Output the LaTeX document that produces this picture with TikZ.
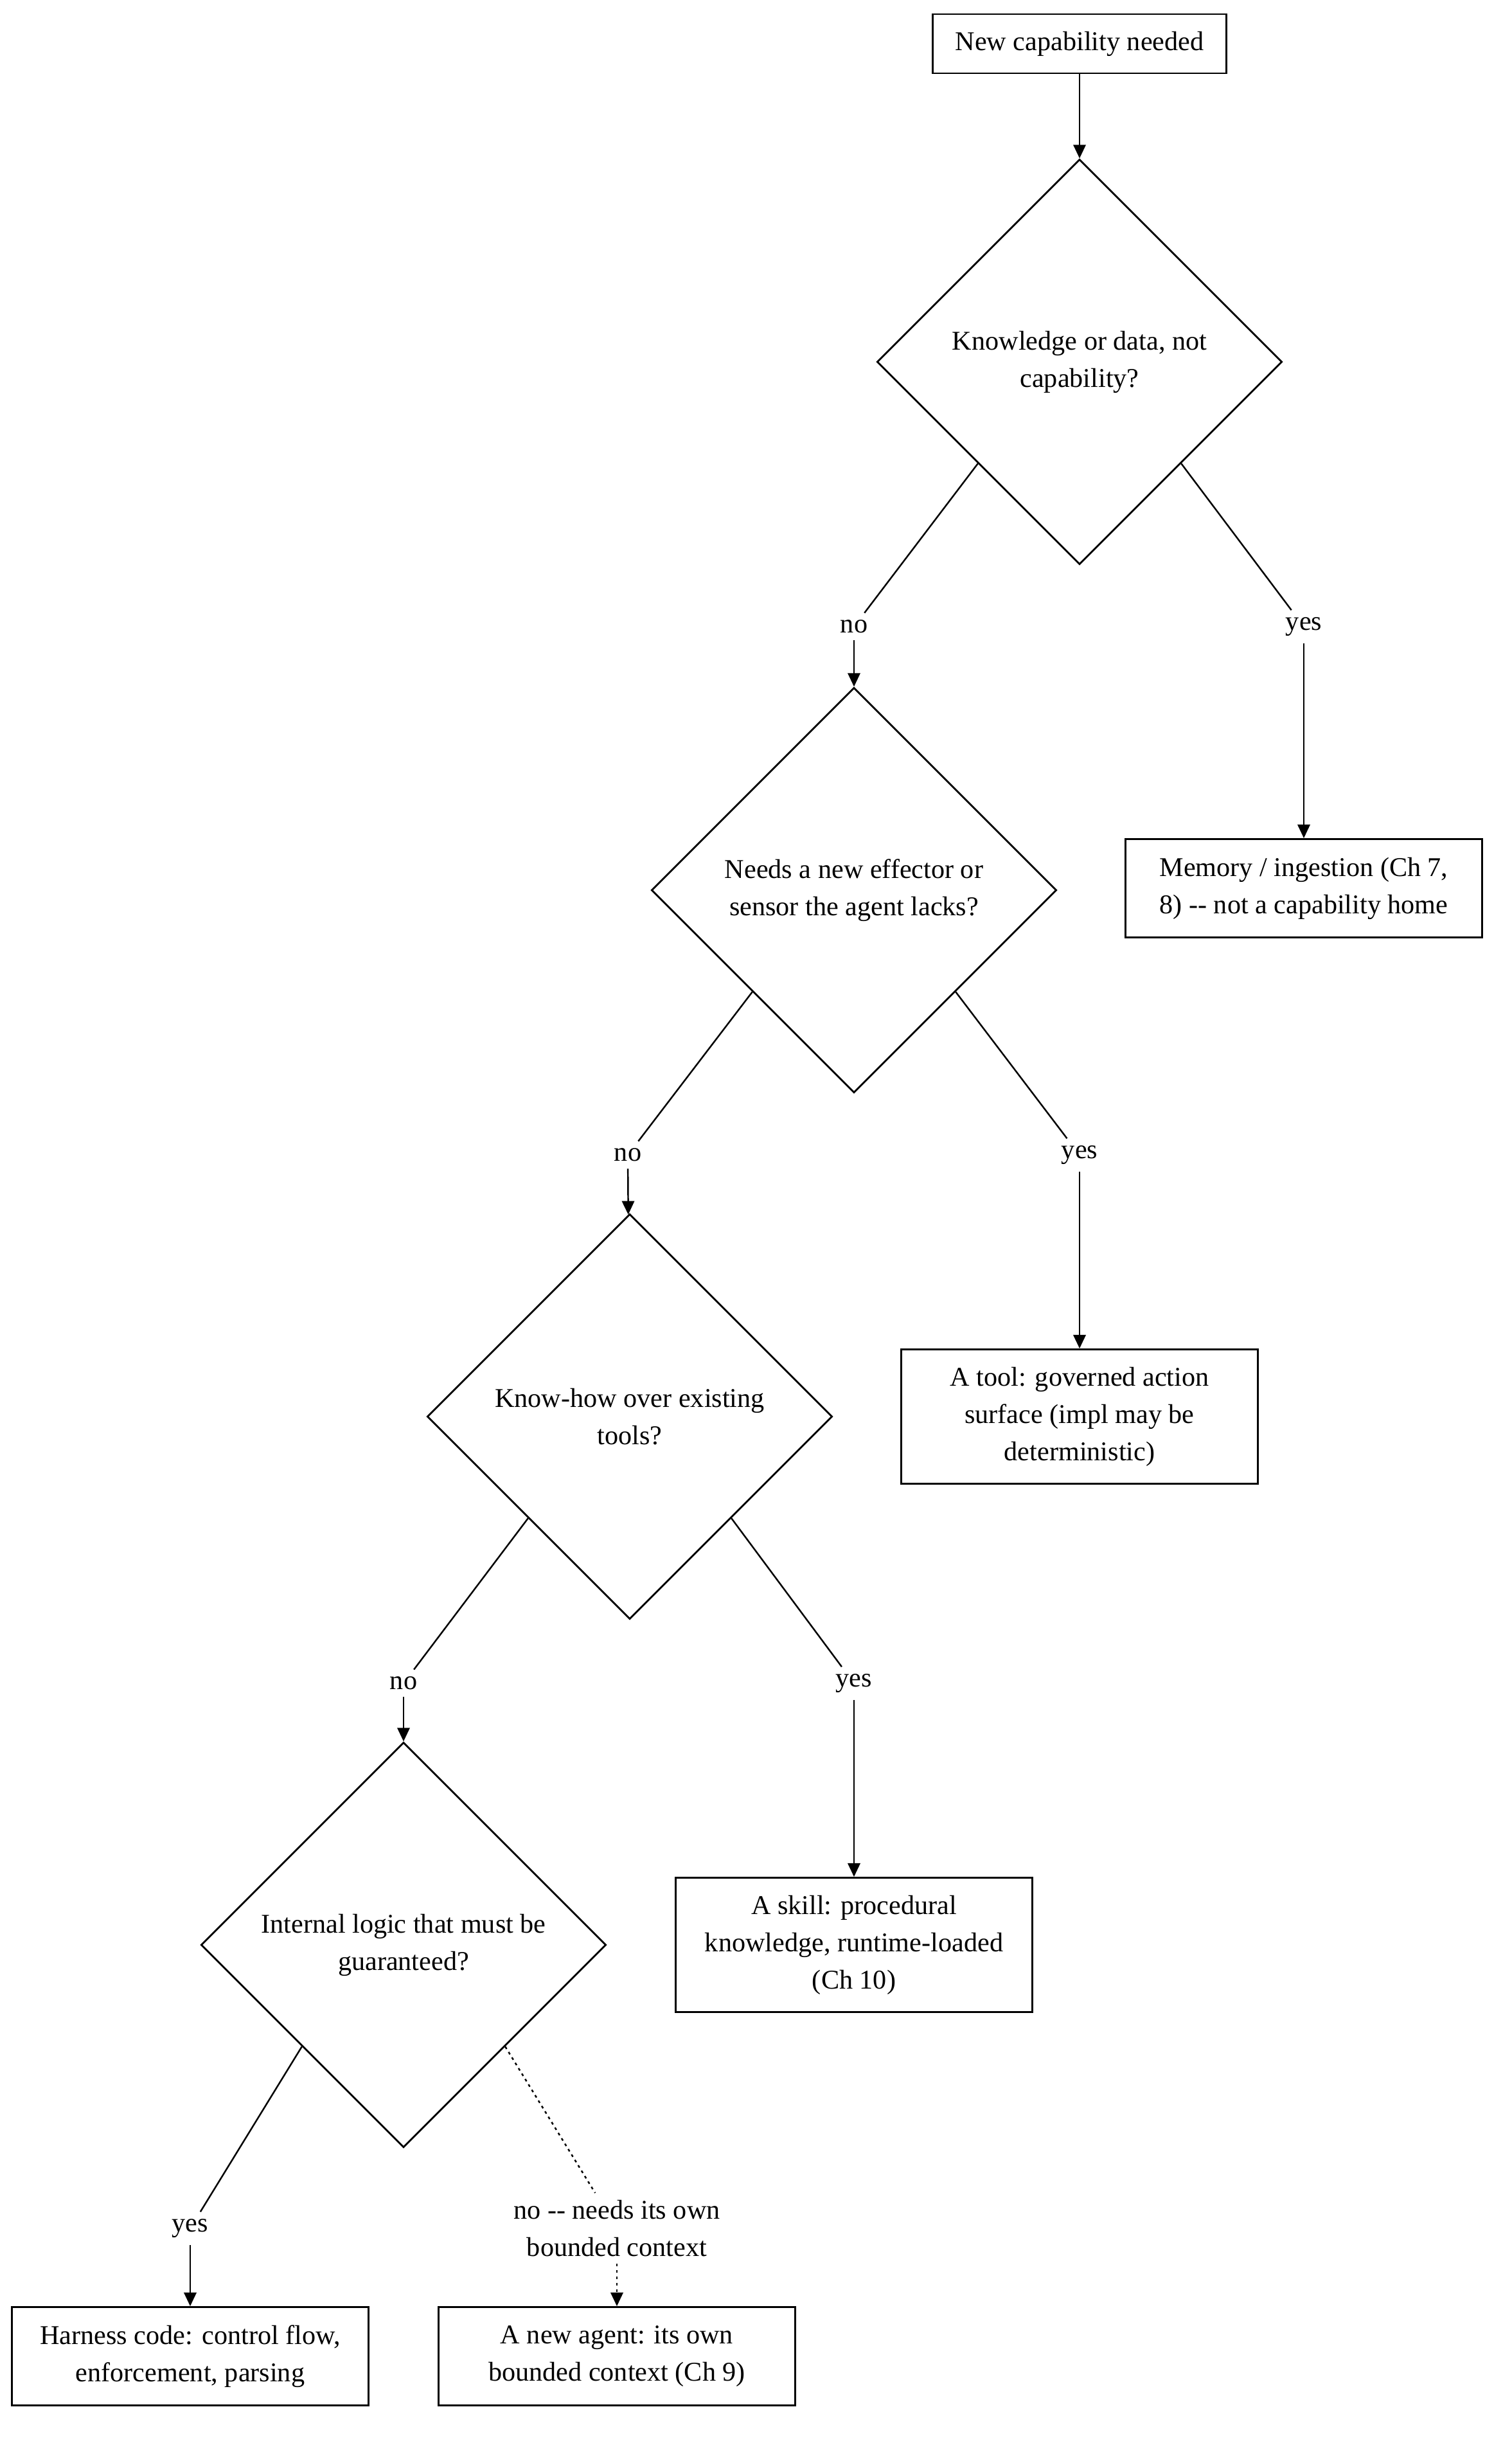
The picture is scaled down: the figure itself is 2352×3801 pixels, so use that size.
\documentclass[tikz,border=0pt]{standalone}
\usepackage{fontspec}
\setmainfont{Liberation Serif}
\usetikzlibrary{arrows.meta, shapes.geometric}

\begin{document}
\begin{tikzpicture}[x=0.01cm, y=-0.01cm, font=\fontsize{12}{16.5}\selectfont,
  box/.style={draw, line width=0.8pt, align=center, minimum width=5.55cm, inner sep=0pt},
  decision/.style={draw, diamond, line width=0.8pt, align=center,
                   minimum width=6.3cm, minimum height=6.3cm, inner sep=0pt},
  lbl/.style={align=center, inner sep=3pt},
  link/.style={line width=0.7pt},
  flow/.style={line width=0.7pt, -{Triangle[length=6pt, width=5.5pt]}},
  maybe/.style={dash pattern=on 1.2pt off 1.6pt}]

  \useasboundingbox (0,0) rectangle (2352,3801);

  \node[box, minimum width=4.56cm, minimum height=0.92cm] (need) at (1680,68) {New capability needed};

  \node[decision] (knowledge) at (1680,563) {Knowledge or data, not\\capability?};
  \node[decision] (effector) at (1329,1385) {Needs a new effector or\\sensor the agent lacks?};
  \node[decision] (knowhow) at (980,2204) {Know-how over existing\\tools?};
  \node[decision] (internal) at (628,3026) {Internal logic that must be\\guaranteed?};

  \node[box, minimum height=1.53cm] (memory) at (2029,1382) {Memory / ingestion (Ch 7,\\8) -\kern0pt- not a capability home};
  \node[box, minimum height=2.09cm] (tool) at (1680,2204) {A tool: governed action\\surface (impl may be\\deterministic)};
  \node[box, minimum height=2.09cm] (skill) at (1329,3026) {A skill: procedural\\knowledge, runtime-loaded\\(Ch 10)};
  \node[box, minimum height=1.53cm] (harness) at (296,3666) {Harness code: control flow,\\enforcement, parsing};
  \node[box, minimum height=1.53cm] (agent) at (960,3666) {A new agent: its own\\bounded context (Ch 9)};

  \node[lbl] (no1) at (1329,975) {no};
  \node[lbl] (yes1) at (2029,975) {yes};
  \node[lbl] (no2) at (977,1797) {no};
  \node[lbl] (yes2) at (1680,1797) {yes};
  \node[lbl] (no3) at (628,2619) {no};
  \node[lbl] (yes3) at (1329,2619) {yes};
  \node[lbl] (yes4) at (296,3467) {yes};
  \node[lbl] (no4) at (960,3467) {no -\kern0pt- needs its own\\bounded context};

  \draw[flow] (need) -- (knowledge);

  \draw[link] (knowledge.south west) -- (no1);
  \draw[flow] (no1) -- (effector);
  \draw[link] (knowledge.south east) -- (yes1);
  \draw[flow] (yes1) -- (memory);

  \draw[link] (effector.south west) -- (no2);
  \draw[flow] (no2) -- (knowhow);
  \draw[link] (effector.south east) -- (yes2);
  \draw[flow] (yes2) -- (tool);

  \draw[link] (knowhow.south west) -- (no3);
  \draw[flow] (no3) -- (internal);
  \draw[link] (knowhow.south east) -- (yes3);
  \draw[flow] (yes3) -- (skill);

  \draw[link] (internal.south west) -- (yes4);
  \draw[flow] (yes4) -- (harness);
  \draw[link, maybe] (internal.south east) -- (no4);
  \draw[flow, maybe] (no4) -- (agent);

\end{tikzpicture}
\end{document}
